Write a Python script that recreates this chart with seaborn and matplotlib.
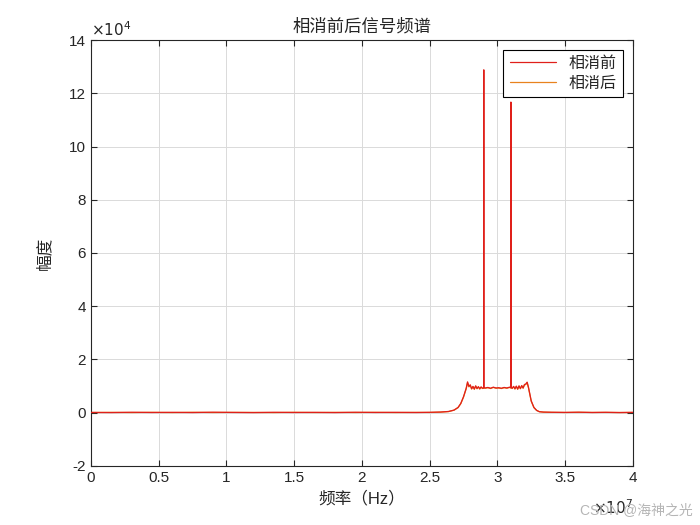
"""相消前后信号频谱 - recreated with seaborn."""

import numpy as np
import pandas as pd
import matplotlib
matplotlib.use("Agg")
import matplotlib.pyplot as plt
import seaborn as sns

# Frequency points (units of 1e7 Hz)
freq_e7 = [0.00, 0.15, 0.30, 0.45, 0.60, 0.75, 0.90, 1.05, 1.20, 1.35,
           1.50, 1.65, 1.80, 1.95, 2.10, 2.25, 2.40, 2.50, 2.58, 2.64,
           2.68, 2.71, 2.73, 2.75, 2.77, 2.78, 2.79,
           2.80, 2.81, 2.82, 2.83, 2.84, 2.85, 2.86, 2.87, 2.88, 2.89,
           2.899, 2.900, 2.901,
           2.91, 2.93, 2.95, 2.97, 2.99, 3.01, 3.03, 3.05, 3.07, 3.09,
           3.099, 3.100, 3.101,
           3.11, 3.12, 3.13, 3.14, 3.15, 3.16, 3.17, 3.18, 3.19, 3.20,
           3.21, 3.22, 3.23, 3.24, 3.25, 3.27, 3.29, 3.31, 3.34, 3.40,
           3.50, 3.60, 3.70, 3.80, 3.90, 4.00]

# Amplitude before cancellation
amp_before = [120, 60, 180, 90, 150, 70, 200, 110, 60, 170,
              90, 140, 60, 180, 100, 150, 80, 160, 260, 480,
              1000, 2000, 3500, 6000, 9200, 11600, 9900,
              10500, 9000, 9900, 8900, 10100, 9100, 9800, 9000, 9700, 9200,
              9400, 128800, 9400,
              9300, 9500, 9200, 9600, 9300, 9400, 9200, 9500, 9300, 9600,
              9400, 116700, 9500,
              9200, 9900, 9000, 10000, 8900, 10100, 9100, 10200, 9300, 10600,
              10800, 11500, 9500, 7000, 4500, 2000, 900, 400, 250, 180,
              120, 200, 90, 160, 70, 140]

# Amplitude after cancellation
amp_after = [90, 150, 70, 160, 60, 180, 90, 140, 120, 60,
             170, 80, 150, 90, 160, 70, 140, 110, 230, 430,
             950, 1900, 3400, 5800, 9000, 11300, 9700,
             10300, 8900, 9800, 8800, 10000, 9000, 9700, 8900, 9600, 9100,
             9300, 9500, 9300,
             9200, 9400, 9100, 9500, 9200, 9300, 9100, 9400, 9200, 9500,
             9300, 9400, 9400,
             9100, 9800, 8900, 9900, 8800, 10000, 9000, 10100, 9200, 10400,
             10600, 11300, 9300, 6800, 4300, 1900, 850, 380, 220, 150,
             100, 170, 120, 130, 90, 110]

freq_hz = np.array(freq_e7) * 1e7
df = pd.concat([
    pd.DataFrame({'freq': freq_hz, 'amp': amp_before, 'series': '相消前'}),
    pd.DataFrame({'freq': freq_hz, 'amp': amp_after, 'series': '相消后'}),
])

sns.set_style("whitegrid")
plt.rcParams['font.family'] = ['Liberation Sans', 'Noto Sans CJK SC', 'DejaVu Sans']
plt.rcParams['axes.unicode_minus'] = False

fig = plt.figure(figsize=(7, 5.25), dpi=100)
ax = fig.add_axes([0.13, 0.1124, 0.774, 0.8114])

sns.lineplot(data=df, x='freq', y='amp', hue='series',
             palette={'相消前': '#E0201A', '相消后': '#E8821E'},
             linewidth=0.9, ax=ax, sort=False, estimator=None)
# red trace sits on top, as in the reference
ax.lines[0].set_zorder(3)

ax.set_xlim(0, 4e7)
ax.set_ylim(-2e4, 14e4)
xt = np.arange(0, 4.01, 0.5)
ax.set_xticks(xt * 1e7)
ax.set_xticklabels([f'{v:g}' for v in xt])
yt = np.arange(-2, 15, 2)
ax.set_yticks(yt * 1e4)
ax.set_yticklabels([f'{v:g}' for v in yt])

ax.grid(True, color='#DADADA', linewidth=0.7)
for s in ax.spines.values():
    s.set_visible(True)
    s.set_color('#262626')
    s.set_linewidth(0.8)
ax.tick_params(direction='in', length=4, width=0.8, colors='#262626',
               labelsize=11, top=True, right=True, bottom=True, left=True)

ax.set_title('相消前后信号频谱', fontsize=12.5, color='#262626', pad=6)
ax.set_xlabel('频率（Hz）', fontsize=12, color='#262626', labelpad=4)
ax.set_ylabel('幅度', fontsize=12, color='#262626', labelpad=12)

ax.text(0.0, 1.003, r'$\times10^{4}$', transform=ax.transAxes,
        ha='left', va='bottom', fontsize=11, color='#262626')
ax.text(1.0, -0.075, r'$\times10^{7}$', transform=ax.transAxes,
        ha='right', va='top', fontsize=11, color='#262626')

leg = ax.legend(loc='upper right', fontsize=11.5, frameon=True, fancybox=False,
                handlelength=2.9, borderpad=0.4, labelspacing=0.3,
                borderaxespad=0.6)
leg.get_frame().set_edgecolor('black')
leg.get_frame().set_linewidth(0.8)
leg.get_frame().set_alpha(1)

fig.text(0.99, 0.015, 'CSDN @海神之光', ha='right', va='bottom',
         fontsize=10, color='#B5B5B5')

plt.savefig('out.png', dpi=100)
plt.close()
